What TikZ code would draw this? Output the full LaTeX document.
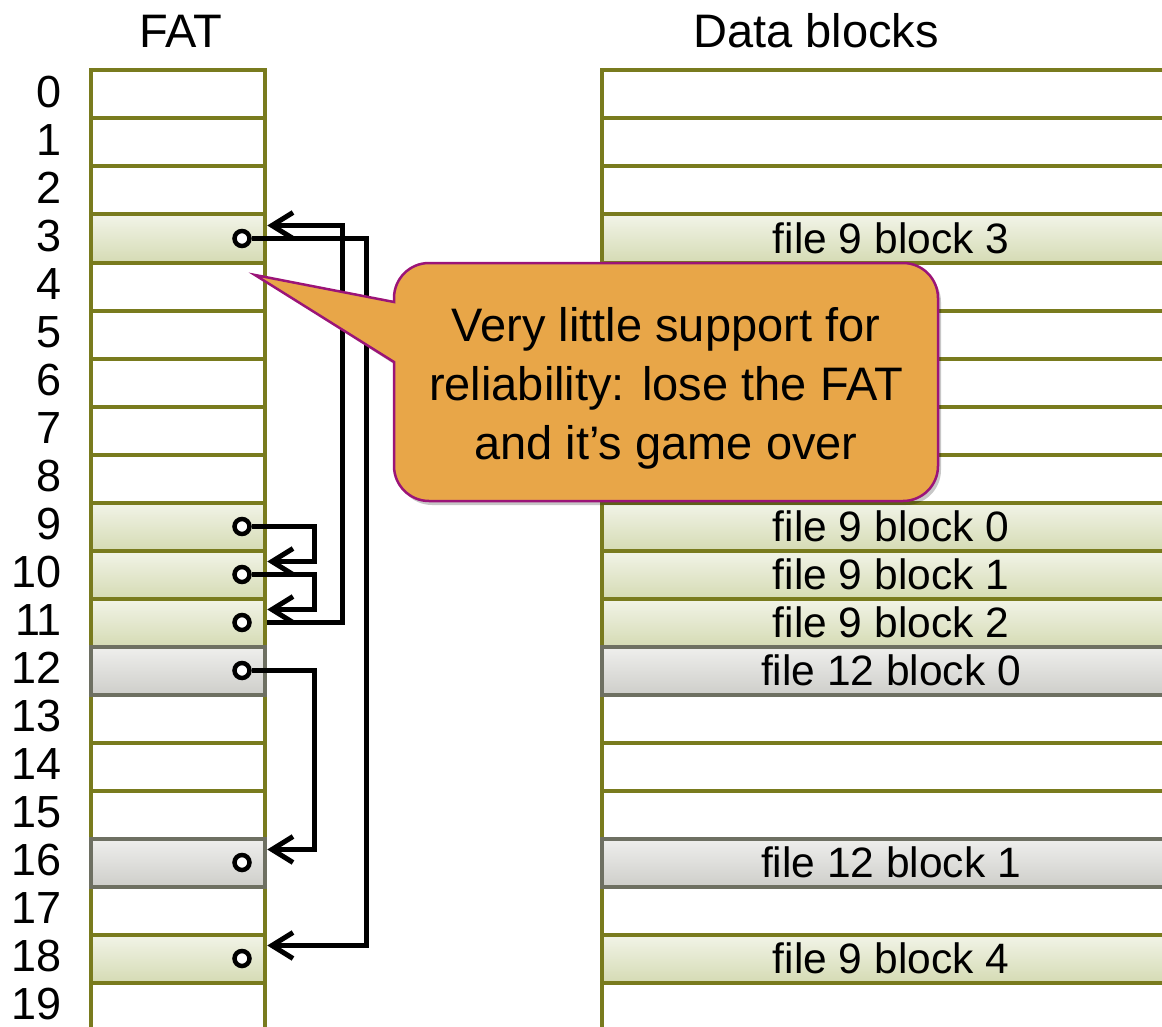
\documentclass[tikz,border=0pt]{standalone}
\usepackage{fontspec}
\setmainfont{Liberation Sans}
\usetikzlibrary{arrows.meta,shadows}
\definecolor{fatolive}{RGB}{121,123,30}
\definecolor{hltop}{RGB}{242,244,232}
\definecolor{hlbot}{RGB}{213,219,180}
\definecolor{grtop}{RGB}{239,239,237}
\definecolor{grbot}{RGB}{206,206,202}
\definecolor{grline}{RGB}{110,112,98}
\definecolor{notefill}{RGB}{232,166,72}
\definecolor{noteline}{RGB}{155,20,120}
\begin{document}
\begin{tikzpicture}[x=1pt,y=-1pt,
  cell/.style={draw=fatolive, line width=4pt, minimum width=174.5pt, minimum height=48pt, inner sep=0pt, fill=white},
  dcell/.style={cell, minimum width=578pt, font=\fontsize{42.5}{50}\selectfont},
  hl/.style={top color=hltop, bottom color=hlbot, drop shadow={opacity=0.18, shadow xshift=1.5pt, shadow yshift=-2pt}},
  gr/.style={top color=grtop, bottom color=grbot, draw=grline, drop shadow={opacity=0.18, shadow xshift=1.5pt, shadow yshift=-2pt}},
  lab/.style={anchor=east, inner sep=0pt, font=\fontsize{45}{50}\selectfont},
  head/.style={inner sep=0pt, font=\fontsize{47}{52}\selectfont},
  dot/.style={circle, draw=black, fill=white, line width=4.5pt, minimum size=15pt, inner sep=0pt},
  ptr/.style={line width=5pt, line join=miter, -{Straight Barb[length=21pt,width=26pt]}},
  notebox/.style={draw=noteline, fill=notefill, line width=2.5pt, line join=miter},
  notetext/.style={align=center, inner sep=0pt, font=\fontsize{47}{59}\selectfont}]
\useasboundingbox (0,0) rectangle (1162,1027);
\clip (0,0) rectangle (1162,1027);

% headers
\node[head] (hfat) at (181,31) {FAT};
\node[head] (hdata) at (816,31) {Data blocks};

% plain rows
\foreach \i in {0,...,19}{
  \pgfmathsetmacro\yc{94.5+48*\i}
  \node[cell] (f\i) at (178,\yc) {};
  \node[dcell] (d\i) at (891,\yc) {};
  \node[lab] (n\i) at (62,\yc-2.5) {\i};
}

% highlighted rows (file 9)
\foreach \i/\b in {3/3,9/0,10/1,11/2,18/4}{
  \pgfmathsetmacro\yc{94.5+48*\i}
  \node[cell,hl] (f\i) at (178,\yc) {};
  \node[dcell,hl] (d\i) at (891,\yc) {file 9 block \b};
}
% file 12 rows
\foreach \i/\b in {12/0,16/1}{
  \pgfmathsetmacro\yc{94.5+48*\i}
  \node[cell,gr] (f\i) at (178,\yc) {};
  \node[dcell,gr] (d\i) at (891,\yc) {file 12 block \b};
}

% pointer dots
\foreach \i in {3,9,10,11,12,16,18}{
  \pgfmathsetmacro\yc{94.5+48*\i}
  \node[dot] (c\i) at (242,\yc) {};
}

% pointers
\draw[ptr] (c9.east) -- ++(63,0) |- ([yshift=13pt]f10.east);
\draw[ptr] (c10.east) -- ++(63,0) |- ([yshift=13pt]f11.east);
\draw[ptr] (f11.east) -- ++(75,0) |- ([yshift=13pt]f3.east);
\draw[ptr] (c3.east) -- ++(115,0) |- ([yshift=13pt]f18.east);
\draw[ptr] (c12.east) -- ++(63,0) |- ([yshift=13pt]f16.east);

% callout
\coordinate (tip) at (255,275);
\fill[black, opacity=0.22, xshift=3pt, yshift=-4pt]
  (tip) -- (394,302) -- (394,298) .. controls (394,278.7) and (409.7,263) .. (429,263)
  -- (903,263) .. controls (922.3,263) and (938,278.7) .. (938,298)
  -- (938,466) .. controls (938,485.3) and (922.3,501) .. (903,501)
  -- (429,501) .. controls (409.7,501) and (394,485.3) .. (394,466)
  -- (394,362) -- cycle;
\path[notebox]
  (tip) -- (394,302) -- (394,298) .. controls (394,278.7) and (409.7,263) .. (429,263)
  -- (903,263) .. controls (922.3,263) and (938,278.7) .. (938,298)
  -- (938,466) .. controls (938,485.3) and (922.3,501) .. (903,501)
  -- (429,501) .. controls (409.7,501) and (394,485.3) .. (394,466)
  -- (394,362) -- cycle;
\node[notetext] (note) at (666,388) {Very little support for\\reliability: lose the FAT\\and it’s game over};
\end{tikzpicture}
\end{document}
